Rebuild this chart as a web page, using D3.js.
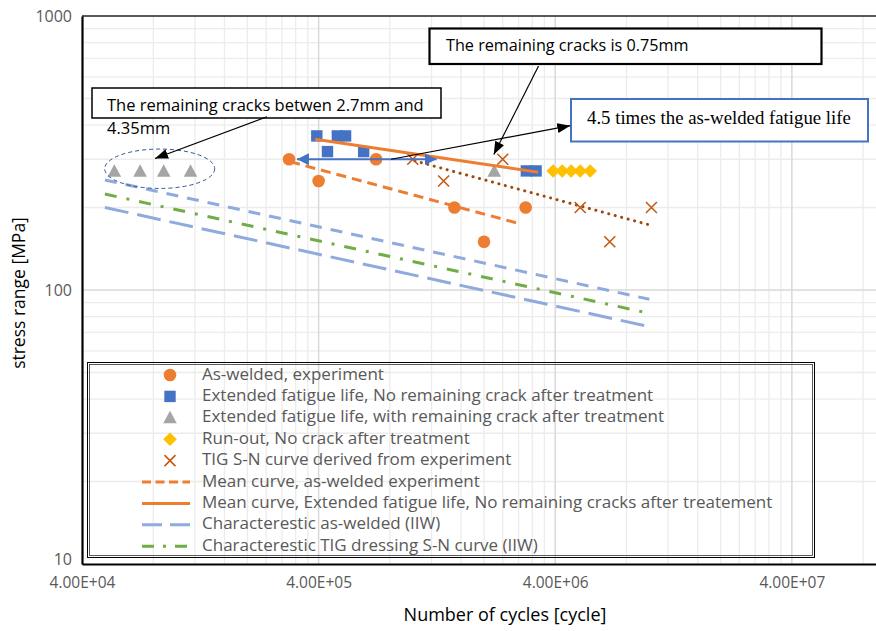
<!DOCTYPE html>
<html><head><meta charset="utf-8">
<script src="https://cdn.jsdelivr.net/npm/d3@7"></script>
<style>body{margin:0;background:#fff;} svg{display:block;font-family:"Open Sans",sans-serif;}</style>
</head><body><svg id="c" width="876" height="631"></svg>
<script>
// ---------- data ----------
const asWelded      = [[3.0e5,300],[4.0e5,250],[7.0e5,300],[1.5e6,200],[2.0e6,150],[3.0e6,200]];
const extNoCrack    = [[3.93e5,365],[4.36e5,320],[4.8e5,365],[5.2e5,365],[6.2e5,320],[3.02e6,272],[3.32e6,272]];
const extWithCrack  = [[5.48e4,271],[7.04e4,271],[8.86e4,271],[1.15e5,271],[2.21e6,271]];
const runOut        = [[3.92e6,272],[4.28e6,272],[4.67e6,272],[5.1e6,272],[5.62e6,272]];
const tigExp        = [[1.0e6,300],[1.35e6,250],[2.4e6,300],[5.1e6,200],[6.8e6,150],[1.02e7,200]];
const meanAsWelded  = [[3.03e5,294],[2.87e6,174]];
const meanExtended  = [[3.87e5,355],[3.39e6,269]];
const meanTig       = [[1.02e6,296],[1.02e7,172]];
const charAsWeldedUpper = [[5e4,252],[1e7,92.5]];
const charTig           = [[5e4,224],[1e7,82.2]];
const charAsWelded      = [[5e4,200],[1e7,73.5]];
const doubleArrow   = [[3.24e5,300],[1.26e6,300]];
const xTicks = [4e4,4e5,4e6,4e7];
const xTickLabels = ["4.00E+04","4.00E+05","4.00E+06","4.00E+07"];
const yTicks = [10,100,1000];
const yTickLabels = ["10","100","1000"];
const legendLabels = [
  "As-welded, experiment",
  "Extended fatigue life, No remaining crack after treatment",
  "Extended fatigue life, with remaining crack after treatment",
  "Run-out, No crack after treatment",
  "TIG S-N curve derived from experiment",
  "Mean curve, as-welded experiment",
  "Mean curve, Extended fatigue life, No remaining cracks after treatement",
  "Characterestic as-welded (IIW)",
  "Characterestic TIG dressing S-N curve (IIW)"
];

// ---------- setup ----------
const svg = d3.select("#c");
const x = d3.scaleLog().domain([4e4,1e8]).range([82,886]);
const y = d3.scaleLog().domain([10,1000]).range([564,16]);
const C = {orange:"#ED7D31", blue:"#4472C4", gray:"#A5A5A5", yellow:"#FFC000",
           xmark:"#C55A11", dots:"#9E480E", lblue:"#8FAADC", green:"#70AD47"};

const defs = svg.append("defs");
function arrowMarker(id,color,w,h){
  defs.append("marker").attr("id",id).attr("viewBox",`0 0 ${w} ${h}`)
    .attr("refX",w).attr("refY",h/2).attr("markerWidth",w).attr("markerHeight",h)
    .attr("markerUnits","userSpaceOnUse").attr("orient","auto-start-reverse")
    .append("path").attr("d",`M0,0L${w},${h/2}L0,${h}Z`).attr("fill",color);
}
arrowMarker("ab","#000",13,10);
arrowMarker("abl",C.blue,12,12);

// ---------- gridlines ----------
const g = svg.append("g");
const xMinor=[], yMinor=[];
xTicks.forEach(t=>{for(let k=2;k<=9;k++){const v=t*k; if(v<1e8) xMinor.push(v);}});
[10,100].forEach(t=>{for(let k=2;k<=9;k++) yMinor.push(t*k);});
g.selectAll(".xm").data(xMinor).join("line").attr("x1",d=>x(d)).attr("x2",d=>x(d))
  .attr("y1",16).attr("y2",564).attr("stroke","#ececec").attr("stroke-width",1.3);
g.selectAll(".ym").data(yMinor).join("line").attr("y1",d=>y(d)).attr("y2",d=>y(d))
  .attr("x1",82).attr("x2",886).attr("stroke","#ececec").attr("stroke-width",1.3);
g.selectAll(".xM").data(xTicks.slice(1)).join("line").attr("x1",d=>x(d)).attr("x2",d=>x(d))
  .attr("y1",16).attr("y2",564).attr("stroke","#d9d9d9").attr("stroke-width",1.5);
g.selectAll(".yM").data([100]).join("line").attr("y1",d=>y(d)).attr("y2",d=>y(d))
  .attr("x1",82).attr("x2",886).attr("stroke","#d9d9d9").attr("stroke-width",1.5);
// plot border
svg.append("line").attr("x1",82).attr("x2",886).attr("y1",y(1000)).attr("y2",y(1000)).attr("stroke","#222").attr("stroke-width",1.5);

// ---------- axes ----------
const xAxis = svg.append("g").attr("transform",`translate(0,${y(10)})`)
  .call(d3.axisBottom(x).tickValues(xTicks).tickFormat((d,i)=>xTickLabels[i]).tickSize(0).tickPadding(13));
const yAxis = svg.append("g").attr("transform",`translate(${x(4e4)},0)`)
  .call(d3.axisLeft(y).tickValues(yTicks).tickFormat((d,i)=>yTickLabels[i]).tickSize(0).tickPadding(10));
[xAxis,yAxis].forEach(a=>{
  a.select(".domain").attr("stroke","#000").attr("stroke-width",2.2);
  a.selectAll("text").attr("fill","#595959").attr("font-family","Open Sans");
});
xAxis.selectAll("text").attr("font-size",15.5).attr("dy","0.71em");
yAxis.selectAll("text").attr("font-size",16);
yAxis.selectAll(".tick").filter(d=>d===10).select("text").attr("dy","0.05em");

svg.append("text").attr("x",505).attr("y",616).attr("text-anchor","middle").attr("dominant-baseline","middle")
  .attr("font-size",18).attr("fill","#000").text("Number of cycles [cycle]");
svg.append("text").attr("transform","translate(20,293) rotate(-90)").attr("text-anchor","middle")
  .attr("dominant-baseline","middle").attr("font-size",17.5).attr("fill","#000").text("stress range [MPa]");

// ---------- lines ----------
const line = d3.line().x(d=>x(d[0])).y(d=>y(d[1]));
function drawLine(data,color,w,dash,cap){
  return svg.append("path").datum(data).attr("d",line).attr("fill","none").attr("stroke",color)
    .attr("stroke-width",w).attr("stroke-dasharray",dash||null).attr("stroke-linecap",cap||"butt");
}
drawLine(charAsWeldedUpper,C.lblue,3,"12,9");
drawLine(charTig,C.green,3,"12,10,3,10");
drawLine(charAsWelded,C.lblue,3,"24,9");
drawLine(meanAsWelded,C.orange,3,"10,6");
drawLine(meanTig,C.dots,3,"0.1,6.6","round");

// ---------- symbols ----------
const sym = {
  circle:(s,c)=>s.append("circle").attr("r",6.3).attr("fill",c),
  square:(s,c)=>s.append("rect").attr("x",-5.7).attr("y",-5.7).attr("width",11.4).attr("height",11.4).attr("fill",c),
  triangle:(s,c)=>s.append("path").attr("d","M0,-7L6.8,5.5L-6.8,5.5Z").attr("fill",c),
  diamond:(s,c)=>s.append("path").attr("d","M0,-6.8L6.8,0L0,6.8L-6.8,0Z").attr("fill",c),
  cross:(s,c)=>s.append("path").attr("d","M-5.5,-5.5L5.5,5.5M-5.5,5.5L5.5,-5.5").attr("stroke",c).attr("stroke-width",1.6).attr("fill","none")
};
function drawPoints(data,kind,color){
  svg.append("g").selectAll("g").data(data).join("g")
    .attr("transform",d=>`translate(${x(d[0])},${y(d[1])})`)
    .each(function(){sym[kind](d3.select(this),color);});
}
drawPoints(asWelded,"circle",C.orange);
drawPoints(extNoCrack,"square",C.blue);
drawPoints(extWithCrack,"triangle",C.gray);
drawPoints(runOut,"diamond",C.yellow);
drawPoints(tigExp,"cross",C.xmark);
drawLine(meanExtended,C.orange,3);

// double-headed blue arrow
svg.append("path").datum(doubleArrow).attr("d",line).attr("stroke",C.blue).attr("stroke-width",2)
  .attr("fill","none").attr("marker-start","url(#abl)").attr("marker-end","url(#abl)");

// ---------- annotations ----------
svg.append("ellipse").attr("cx",x(8.52e4)).attr("cy",y(277)).attr("rx",55).attr("ry",19.7)
  .attr("fill","none").attr("stroke","#2F5597").attr("stroke-width",1).attr("stroke-dasharray","4,3");

// box 1
svg.append("rect").attr("x",92).attr("y",88).attr("width",349).attr("height",30)
  .attr("fill","#fff").attr("stroke","#000").attr("stroke-width",1.5);
svg.append("text").attr("x",107).attr("y",107).attr("dominant-baseline","middle").attr("font-size",16.5).attr("fill","#000")
  .text("The remaining cracks betwen 2.7mm and");
svg.append("text").attr("x",107).attr("y",130).attr("dominant-baseline","middle").attr("font-size",16.5).attr("fill","#000")
  .text("4.35mm");
// box 2
svg.append("rect").attr("x",429.5).attr("y",28.5).attr("width",392).attr("height",35.5)
  .attr("fill","#fff").attr("stroke","#000").attr("stroke-width",2.2);
svg.append("text").attr("x",446).attr("y",46.5).attr("dominant-baseline","middle").attr("font-size",16.2).attr("fill","#000")
  .text("The remaining cracks is 0.75mm");
// box 3
svg.append("rect").attr("x",571).attr("y",99).attr("width",297).attr("height",42.5)
  .attr("fill","#fff").attr("stroke",C.blue).attr("stroke-width",2);
svg.append("text").attr("x",587).attr("y",120).attr("dominant-baseline","middle").attr("font-size",18.8)
  .attr("font-family","Liberation Serif, Times New Roman, serif").attr("fill","#000")
  .text("4.5 times the as-welded fatigue life");

// annotation arrows
const annArrows = [
  [[2.42e5,429],[8.14e4,302]],
  [[3.4e6,657],[2.2e6,312]],
  [[8.1e5,300],[4.63e6,398]]
];
svg.append("g").selectAll("path").data(annArrows).join("path").attr("d",line)
  .attr("stroke","#000").attr("stroke-width",1.2).attr("fill","none").attr("marker-end","url(#ab)");

// ---------- legend ----------
const lg = svg.append("g");
lg.append("rect").attr("x",87.5).attr("y",362.5).attr("width",727).attr("height",195).attr("fill","none").attr("stroke","#000").attr("stroke-width",1);
lg.append("rect").attr("x",89.5).attr("y",364.5).attr("width",723).attr("height",191).attr("fill","none").attr("stroke","#333").attr("stroke-width",0.8);
const rowY = i=>375+i*21.4;
const legendKinds = [
  {t:"pt",k:"circle",c:C.orange},{t:"pt",k:"square",c:C.blue},{t:"pt",k:"triangle",c:C.gray},
  {t:"pt",k:"diamond",c:C.yellow},{t:"pt",k:"cross",c:C.xmark},
  {t:"ln",c:C.orange,d:"9,4.5"},{t:"ln",c:C.orange,d:null},{t:"ln",c:C.lblue,d:"20,8"},{t:"ln",c:C.green,d:"12,9,3,9"}
];
legendLabels.forEach((lab,i)=>{
  const k = legendKinds[i], yy=rowY(i);
  if(k.t==="pt"){ sym[k.k](lg.append("g").attr("transform",`translate(170,${yy})`),k.c); }
  else lg.append("line").attr("x1",142).attr("x2",190).attr("y1",yy).attr("y2",yy).attr("stroke",k.c)
        .attr("stroke-width",3).attr("stroke-dasharray",k.d);
  lg.append("text").attr("x",202).attr("y",yy).attr("dominant-baseline","middle").attr("font-size",17)
    .attr("fill","#595959").text(lab);
});
</script></body></html>
